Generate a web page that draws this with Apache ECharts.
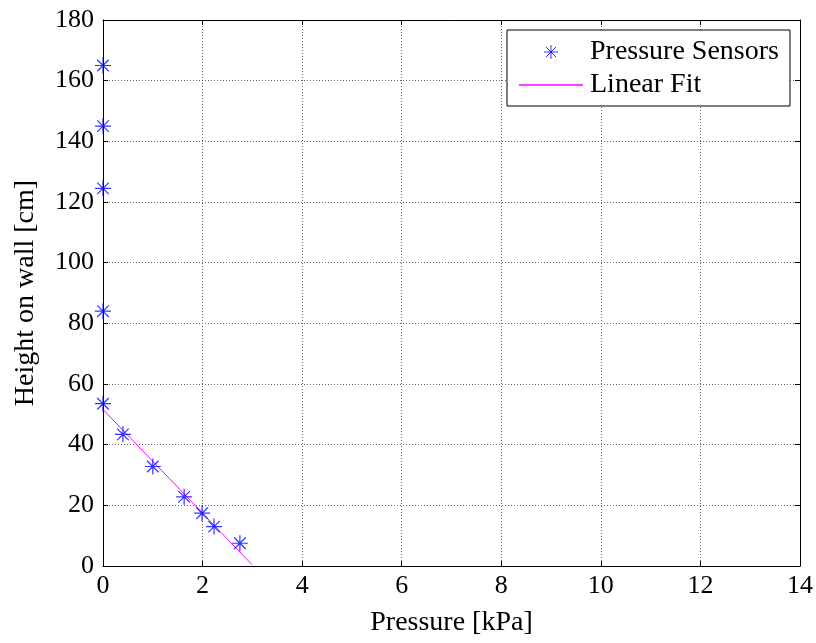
<!DOCTYPE html>
<html><head><meta charset="utf-8">
<script src="https://cdn.jsdelivr.net/npm/echarts@6/dist/echarts.min.js"></script>
<style>html,body{margin:0;padding:0;background:#fff}#c{width:816px;height:643px}</style>
</head><body><div id="c"></div>
<script>
// Data
const sensorPressure = [0, 0, 0, 0, 0, 0.40, 1.00, 1.63, 1.99, 2.23, 2.75];
const sensorHeight   = [165, 145, 124.5, 84, 53.5, 43.4, 32.8, 22.8, 17.4, 13.0, 7.5];
const fitPressure = [0, 1.33, 2.42, 2.99];
const fitHeight   = [51.6, 28.9, 10.2, 0.5];
const xTicks = {min: 0, max: 14, interval: 2};
const yTicks = {min: 0, max: 180, interval: 20};

const font = 'Liberation Serif, Times New Roman, serif';
const star = 'path://M0,-1L0,1M-1,0L1,0M-0.72,-0.72L0.72,0.72M-0.72,0.72L0.72,-0.72';

const chart = echarts.init(document.getElementById('c'), null, {renderer: 'canvas'});
const axisCommon = {
  axisLine: {show: true, onZero: false, lineStyle: {color: '#000', width: 1}},
  axisTick: {show: true, inside: true, length: 5, lineStyle: {color: '#000'}},
};
chart.setOption({
  animation: false,
  backgroundColor: '#fff',
  grid: {left: 103, right: 16, top: 20, bottom: 77},
  xAxis: [
    Object.assign({
      type: 'value', min: xTicks.min, max: xTicks.max, interval: xTicks.interval,
      position: 'bottom',
      name: 'Pressure [kPa]', nameLocation: 'middle', nameGap: 43,
      nameTextStyle: {fontFamily: font, fontSize: 28, color: '#000'},
      axisLabel: {fontFamily: font, fontSize: 26, color: '#000', margin: 7},
      splitLine: {show: true, lineStyle: {color: '#666', type: [1, 2], width: 1}}
    }, axisCommon),
    Object.assign({
      type: 'value', min: xTicks.min, max: xTicks.max, interval: xTicks.interval,
      position: 'top', axisLabel: {show: false}, splitLine: {show: false}
    }, axisCommon)
  ],
  yAxis: [
    Object.assign({
      type: 'value', min: yTicks.min, max: yTicks.max, interval: yTicks.interval,
      position: 'left',
      name: 'Height on wall [cm]', nameLocation: 'middle', nameGap: 63,
      nameTextStyle: {fontFamily: font, fontSize: 28, color: '#000'},
      axisLabel: {fontFamily: font, fontSize: 26, color: '#000', margin: 9},
      splitLine: {show: true, lineStyle: {color: '#666', type: [1, 2], width: 1}}
    }, axisCommon),
    Object.assign({
      type: 'value', min: yTicks.min, max: yTicks.max, interval: yTicks.interval,
      position: 'right', axisLabel: {show: false}, splitLine: {show: false}
    }, axisCommon)
  ],
  legend: {
    orient: 'vertical', left: 507, top: 30,
    padding: [8, 11, 7, 12], itemGap: 5, itemWidth: 64, itemHeight: 14,
    symbolKeepAspect: true,
    backgroundColor: '#fff', borderColor: '#000', borderWidth: 1,
    textStyle: {fontFamily: font, fontSize: 28, color: '#000', lineHeight: 28, padding: [0, 0, 0, 2]},
    data: [
      {name: 'Pressure Sensors', icon: star, itemStyle: {color: 'none', borderColor: '#0000ff', borderWidth: 1}},
      {name: 'Linear Fit', icon: 'path://M0,0L64,0L64,1.6L0,1.6Z', itemStyle: {color: '#ff00ff', borderWidth: 0}}
    ]
  },
  series: [
    {
      name: 'Pressure Sensors', type: 'scatter', symbol: star, symbolSize: 16,
      itemStyle: {color: 'none', borderColor: '#0000ff', borderWidth: 1.2},
      data: sensorPressure.map((p, i) => [p, sensorHeight[i]]),
      z: 3
    },
    {
      name: 'Linear Fit', type: 'line', symbol: 'none', showSymbol: false,
      lineStyle: {color: '#ff00ff', width: 1},
      itemStyle: {color: '#ff00ff'},
      data: fitPressure.map((p, i) => [p, fitHeight[i]]),
      z: 2
    }
  ]
});
</script></body></html>
